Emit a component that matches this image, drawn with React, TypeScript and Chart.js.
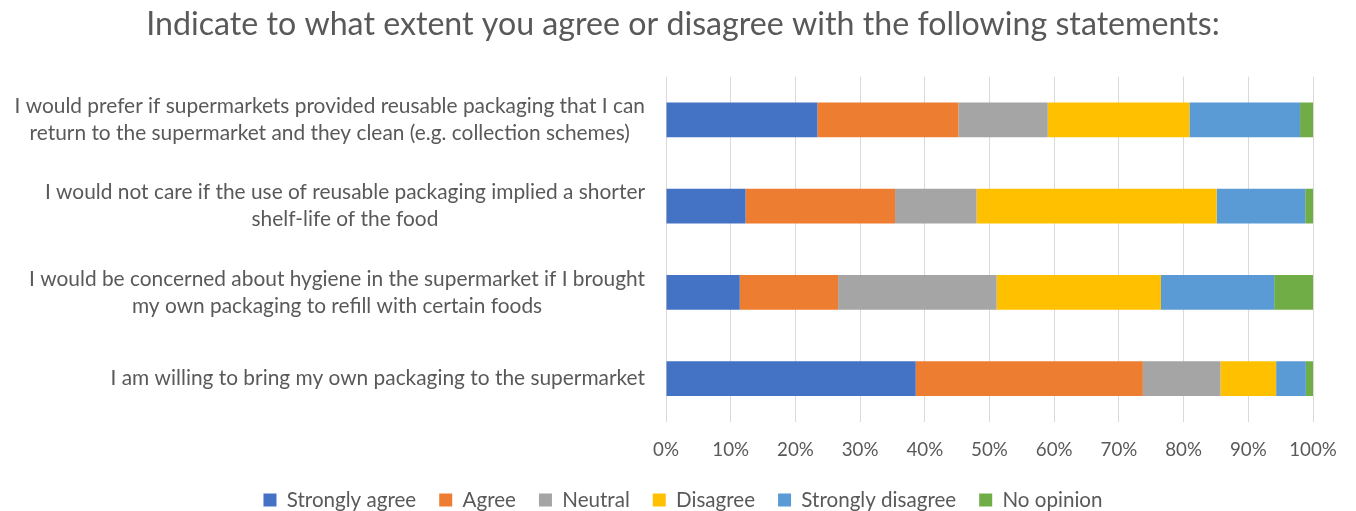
import React, { useEffect, useRef } from "react";
import { Chart, registerables } from "chart.js";

Chart.register(...registerables);

const TITLE = "Indicate to what extent you agree or disagree with the following statements:";

const categories: string[][] = [
  ["I would prefer if supermarkets provided reusable packaging that I can", "return to the supermarket and they clean (e.g. collection schemes)"],
  ["I would not care if the use of reusable packaging implied a shorter", "shelf-life of the food"],
  ["I would be concerned about hygiene in the supermarket if I brought", "my own packaging to refill with certain foods"],
  ["I am willing to bring my own packaging to the supermarket"],
];

const seriesNames = ["Strongly agree", "Agree", "Neutral", "Disagree", "Strongly disagree", "No opinion"];
const seriesColors = ["#4472C4", "#ED7D31", "#A5A5A5", "#FFC000", "#5B9BD5", "#70AD47"];

const stronglyAgree = [23.4, 12.3, 11.4, 38.6];
const agree = [21.8, 23.1, 15.2, 35.1];
const neutral = [13.8, 12.6, 24.5, 12.0];
const disagree = [21.9, 37.1, 25.4, 8.6];
const stronglyDisagree = [17.1, 13.7, 17.5, 4.6];
const noOpinion = [2.0, 1.2, 6.0, 1.1];

const seriesValues = [stronglyAgree, agree, neutral, disagree, stronglyDisagree, noOpinion];

const xTicks = [0, 10, 20, 30, 40, 50, 60, 70, 80, 90, 100];

const FAMILY = "Lato";
const TEXT = "#595959";

function fitSize(text: string, target: number): number {
  const c = document.createElement("canvas").getContext("2d")!;
  c.font = `100px ${FAMILY}`;
  const w = c.measureText(text).width;
  return (100 * target) / w;
}

export default function App() {
  const ref = useRef<HTMLCanvasElement>(null);

  useEffect(() => {
    const canvas = ref.current!;
    const W = 1356;
    const H = 511;

    const titleFs = fitSize(TITLE, 1074);
    const labelFs = fitSize(categories[3][0], 535);
    const tickFs = fitSize("100%", 47.7);
    const legendFs = fitSize("Strongly agree", 129.5);

    const plotLeft = 666;
    const plotRight = 1313;
    const plotTop = 76.7;
    const plotBottom = 421.7;
    const padLeft = 53;
    const legendPad = 23;
    const legendCenter = 500;
    const padBottom = H - (legendCenter + 10 + legendFs / 2);
    const legendH = legendFs + legendPad + 10;

    const titlePadTop = 24.5 - 0.6 * titleFs;
    const titlePadBottom = plotTop - titlePadTop - 1.2 * titleFs;

    const yLabelsPlugin = {
      id: "yLabels",
      afterDraw(chart: any) {
        const ctx = chart.ctx as CanvasRenderingContext2D;
        const yScale = chart.scales.y;
        const right = chart.chartArea.left - 21;
        ctx.save();
        ctx.font = `${labelFs}px ${FAMILY}`;
        ctx.fillStyle = TEXT;
        ctx.textAlign = "center";
        ctx.textBaseline = "middle";
        const lineH = 27;
        categories.forEach((lines, i) => {
          const yc = yScale.getPixelForValue(i);
          const maxW = Math.max(...lines.map((l) => ctx.measureText(l).width));
          const cx = right - maxW / 2;
          lines.forEach((l, j) => {
            ctx.fillText(l, cx, yc + (j - (lines.length - 1) / 2) * lineH);
          });
        });
        ctx.restore();
      },
    };

    const chart = new Chart(canvas, {
      type: "bar",
      data: {
        labels: categories.map((c) => c.join(" ")),
        datasets: seriesNames.map((name, i) => ({
          label: name,
          data: seriesValues[i],
          backgroundColor: seriesColors[i],
          borderWidth: 0,
          barPercentage: 0.402,
          categoryPercentage: 1,
        })),
      },
      options: {
        indexAxis: "y",
        responsive: false,
        animation: false,
        devicePixelRatio: 1,
        layout: {
          padding: { left: padLeft, right: W - plotRight, top: 0, bottom: padBottom },
        },
        plugins: {
          title: {
            display: true,
            text: TITLE,
            color: TEXT,
            font: { family: FAMILY, size: titleFs, weight: "normal" },
            padding: { top: titlePadTop, bottom: titlePadBottom },
          },
          legend: {
            position: "bottom",
            labels: {
              color: TEXT,
              font: { family: FAMILY, size: legendFs },
              boxWidth: 13,
              boxHeight: 13,
              padding: legendPad,
            },
          },
          tooltip: { enabled: false },
        },
        scales: {
          x: {
            stacked: true,
            min: 0,
            max: 100,
            afterBuildTicks(scale: any) {
              scale.ticks = xTicks.map((v) => ({ value: v }));
            },
            afterFit(scale: any) {
              scale.height = H - padBottom - legendH - plotBottom;
            },
            grid: { color: "#D9D9D9", lineWidth: 1, drawTicks: false },
            border: { display: false },
            ticks: {
              color: TEXT,
              font: { family: FAMILY, size: tickFs },
              padding: 28.3 - 0.6 * tickFs,
              maxRotation: 0,
              callback: (v: any) => `${v}%`,
            },
          },
          y: {
            stacked: true,
            grid: { display: false, drawTicks: false },
            border: { display: false },
            ticks: { display: false },
            afterFit(scale: any) {
              scale.width = plotLeft - padLeft;
            },
          },
        },
      },
      plugins: [yLabelsPlugin],
    } as any);

    return () => chart.destroy();
  }, []);

  return (
    <div style={{ position: "absolute", left: 0, top: 0, width: 1356, height: 511, background: "#fff" }}>
      <canvas ref={ref} width={1356} height={511} style={{ display: "block", width: 1356, height: 511 }} />
    </div>
  );
}
